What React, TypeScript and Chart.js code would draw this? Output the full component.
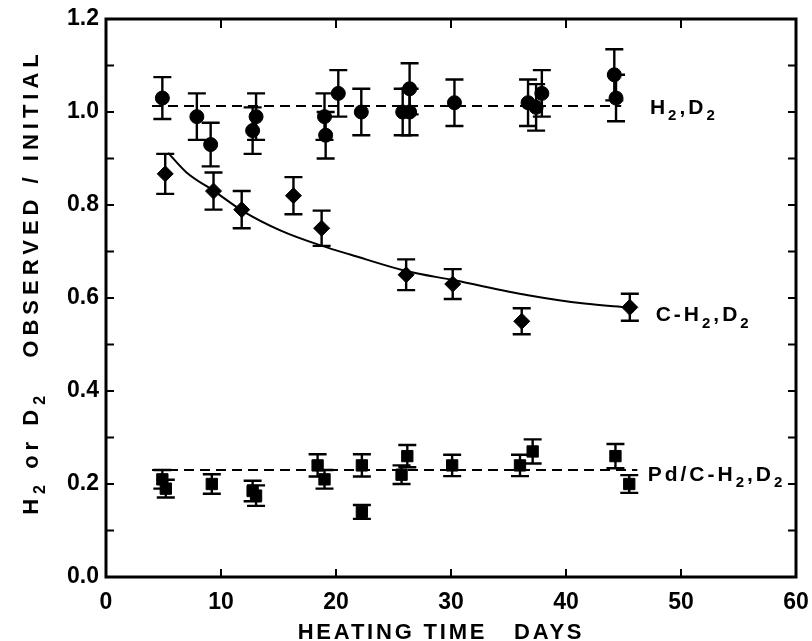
import React, { useEffect, useRef } from 'react';
import { Chart, registerables } from 'chart.js';

Chart.register(...registerables);

// H2,D2 (circles)
const h2X = [4.9, 7.9, 9.1, 12.75, 13.05, 19.0, 19.1, 20.2, 22.2, 25.8, 26.4, 26.4, 30.3, 36.7, 37.4, 37.9, 44.2, 44.35];
const h2Y = [1.03, 0.99, 0.93, 0.96, 0.99, 0.99, 0.95, 1.04, 1.0, 1.0, 1.0, 1.05, 1.02, 1.02, 1.01, 1.04, 1.08, 1.03];
const h2Err = [0.045, 0.05, 0.047, 0.05, 0.05, 0.05, 0.05, 0.05, 0.05, 0.05, 0.05, 0.055, 0.05, 0.05, 0.05, 0.05, 0.055, 0.05];

// C-H2,D2 (diamonds)
const cX = [5.15, 9.35, 11.8, 16.3, 18.75, 26.1, 30.15, 36.15, 45.55];
const cY = [0.867, 0.83, 0.79, 0.82, 0.75, 0.65, 0.63, 0.55, 0.58];
const cErr = [0.043, 0.04, 0.04, 0.04, 0.038, 0.033, 0.032, 0.028, 0.029];

// Pd/C-H2,D2 (squares)
const pdX = [4.9, 5.2, 9.2, 12.75, 13.05, 18.4, 19.0, 22.25, 22.25, 25.7, 26.2, 30.1, 36.0, 37.1, 44.3, 45.5];
const pdY = [0.21, 0.19, 0.2, 0.185, 0.175, 0.24, 0.21, 0.24, 0.14, 0.22, 0.26, 0.24, 0.24, 0.27, 0.26, 0.2];
const pdErr = [0.02, 0.019, 0.021, 0.022, 0.022, 0.024, 0.02, 0.024, 0.015, 0.02, 0.024, 0.023, 0.023, 0.026, 0.026, 0.019];

// fitted curve through C-H2,D2
const fitX = [5.4, 7.0, 9.4, 11.9, 15.2, 18.8, 21.3, 26.1, 30.3, 36.7, 41.6, 45.4];
const fitY = [0.912, 0.87, 0.83, 0.787, 0.745, 0.712, 0.693, 0.658, 0.638, 0.606, 0.588, 0.58];

// mean (dashed) lines
const h2MeanX = [4.0, 44.8];
const h2MeanY = [1.013, 1.013];
const pdMeanX = [4.0, 46.2];
const pdMeanY = [0.23, 0.23];

const xTickValues = [0, 10, 20, 30, 40, 50, 60];
const yTickLabels = ['0.0', '0.2', '0.4', '0.6', '0.8', '1.0', '1.2'];

const toPts = (xs: number[], ys: number[]) => xs.map((x, i) => ({ x, y: ys[i] }));

type Seg = { t: string; sub?: boolean };

function richWidth(ctx: CanvasRenderingContext2D, segs: Seg[], size: number, family: string) {
  let w = 0;
  for (const s of segs) {
    ctx.font = `bold ${s.sub ? Math.round(size * 0.72) : size}px ${family}`;
    w += ctx.measureText(s.t).width;
  }
  return w;
}

function drawRich(ctx: CanvasRenderingContext2D, segs: Seg[], x: number, y: number, size: number, family: string) {
  let cx = x;
  ctx.textBaseline = 'alphabetic';
  ctx.textAlign = 'left';
  for (const s of segs) {
    const fs = s.sub ? Math.round(size * 0.72) : size;
    ctx.font = `bold ${fs}px ${family}`;
    ctx.fillText(s.t, cx, y + (s.sub ? size * 0.3 : 0));
    cx += ctx.measureText(s.t).width;
  }
}

const FONT = '"Liberation Sans", Arial, sans-serif';
const NARROW = '"Liberation Sans Narrow", "Liberation Sans", Arial, sans-serif';

const decorPlugin = {
  id: 'decor',
  beforeDatasetsDraw(chart: any) {
    const ctx: CanvasRenderingContext2D = chart.ctx;
    const xs = chart.scales.x;
    const ys = chart.scales.y;
    ctx.save();
    ctx.strokeStyle = '#000';
    chart.data.datasets.forEach((ds: any) => {
      if (!ds.errors) return;
      ds.data.forEach((p: any, i: number) => {
        const e = ds.errors[i];
        const px = xs.getPixelForValue(p.x);
        const top = ys.getPixelForValue(p.y + e);
        const bot = ys.getPixelForValue(p.y - e);
        ctx.beginPath();
        ctx.moveTo(px, top);
        ctx.lineTo(px, bot);
        ctx.moveTo(px - 9, top);
        ctx.lineTo(px + 9, top);
        ctx.moveTo(px - 9, bot);
        ctx.lineTo(px + 9, bot);
        ctx.lineWidth = 2.4;
        ctx.stroke();
      });
    });
    ctx.restore();
  },
  afterDraw(chart: any) {
    const ctx: CanvasRenderingContext2D = chart.ctx;
    const a = chart.chartArea;
    const xs = chart.scales.x;
    const ys = chart.scales.y;
    ctx.save();
    ctx.strokeStyle = '#000';
    ctx.fillStyle = '#000';
    // frame
    ctx.lineWidth = 3;
    ctx.strokeRect(a.left, a.top, a.right - a.left, a.bottom - a.top);
    // inner ticks
    ctx.lineWidth = 2;
    ctx.beginPath();
    for (let v = 10; v < 60; v += 10) {
      const px = xs.getPixelForValue(v);
      ctx.moveTo(px, a.bottom);
      ctx.lineTo(px, a.bottom - 8);
      ctx.moveTo(px, a.top);
      ctx.lineTo(px, a.top + 9);
    }
    for (let k = 1; k < 12; k++) {
      const py = ys.getPixelForValue(k / 10);
      ctx.moveTo(a.left, py);
      ctx.lineTo(a.left + 8, py);
      ctx.moveTo(a.right, py);
      ctx.lineTo(a.right - 8, py);
    }
    ctx.stroke();

    // series labels
    const size = 21;
    (ctx as any).letterSpacing = '3px';
    const lab = (segs: Seg[], xv: number, yv: number) => {
      drawRich(ctx, segs, xs.getPixelForValue(xv), ys.getPixelForValue(yv) + 8, size, FONT);
    };
    lab([{ t: 'H' }, { t: '2', sub: true }, { t: ',D' }, { t: '2', sub: true }], 47.3, 1.013);
    lab([{ t: 'C-H' }, { t: '2', sub: true }, { t: ',D' }, { t: '2', sub: true }], 47.8, 0.567);
    lab([{ t: 'Pd/C-H' }, { t: '2', sub: true }, { t: ',D' }, { t: '2', sub: true }], 47.1, 0.224);

    // x title
    (ctx as any).letterSpacing = '2.8px';
    ctx.font = `bold 22px ${FONT}`;
    ctx.textAlign = 'center';
    ctx.textBaseline = 'alphabetic';
    ctx.fillText('HEATING TIME   DAYS', 441, 639);

    // y title (rotated)
    const ySegs: Seg[] = [
      { t: 'H' }, { t: '2', sub: true }, { t: ' or D' }, { t: '2', sub: true }, { t: '   OBSERVED / INITIAL' },
    ];
    (ctx as any).letterSpacing = '5px';
    const w = richWidth(ctx, ySegs, 22, FONT);
    ctx.translate(38, 282);
    ctx.rotate(-Math.PI / 2);
    drawRich(ctx, ySegs, -w / 2, 0, 22, FONT);
    ctx.restore();
  },
};

export default function App() {
  const ref = useRef<HTMLCanvasElement | null>(null);
  useEffect(() => {
    document.body.style.margin = '0';
    const canvas = ref.current;
    if (!canvas) return;
    const chart = new Chart(canvas, {
      type: 'scatter',
      data: {
        datasets: [
          {
            label: 'H2,D2',
            data: toPts(h2X, h2Y),
            errors: h2Err,
            pointStyle: 'circle',
            pointRadius: 7,
            backgroundColor: '#000',
            borderColor: '#000',
            showLine: false,
          } as any,
          {
            label: 'C-H2,D2',
            data: toPts(cX, cY),
            errors: cErr,
            pointStyle: 'rectRot',
            pointRadius: 8,
            backgroundColor: '#000',
            borderColor: '#000',
            showLine: false,
          } as any,
          {
            label: 'Pd/C-H2,D2',
            data: toPts(pdX, pdY),
            errors: pdErr,
            pointStyle: 'rect',
            pointRadius: 8,
            backgroundColor: '#000',
            borderColor: '#000',
            showLine: false,
          } as any,
          {
            label: 'fit',
            data: toPts(fitX, fitY),
            showLine: true,
            pointRadius: 0,
            borderColor: '#000',
            borderWidth: 2,
            cubicInterpolationMode: 'monotone',
          } as any,
          {
            label: 'h2 mean',
            data: toPts(h2MeanX, h2MeanY),
            showLine: true,
            pointRadius: 0,
            borderColor: '#000',
            borderWidth: 2,
            borderDash: [10, 6],
          } as any,
          {
            label: 'pd mean',
            data: toPts(pdMeanX, pdMeanY),
            showLine: true,
            pointRadius: 0,
            borderColor: '#000',
            borderWidth: 2,
            borderDash: [10, 6],
          } as any,
        ],
      },
      options: {
        responsive: false,
        animation: false,
        layout: { padding: { top: 19, right: 16, left: 0, bottom: 0 } },
        plugins: { legend: { display: false }, tooltip: { enabled: false } },
        scales: {
          x: {
            type: 'linear',
            min: 0,
            max: 60,
            afterBuildTicks: (s: any) => {
              s.ticks = xTickValues.map((v) => ({ value: v }));
            },
            ticks: {
              color: '#000',
              font: { family: NARROW, size: 23, weight: 'bold' },
              padding: 12,
              maxRotation: 0,
              autoSkip: false,
            },
            grid: { display: false, drawTicks: false },
            border: { display: false },
            afterFit: (s: any) => {
              s.height = 64;
              s.paddingLeft = 0;
              s.paddingRight = 0;
            },
          },
          y: {
            type: 'linear',
            min: 0,
            max: 1.2,
            afterBuildTicks: (s: any) => {
              s.ticks = yTickLabels.map((t) => ({ value: parseFloat(t) }));
            },
            ticks: {
              color: '#000',
              font: { family: NARROW, size: 23, weight: 'bold' },
              padding: 7,
              autoSkip: false,
              callback: (v: any) => {
                const lbl = yTickLabels.find((t) => Math.abs(parseFloat(t) - v) < 1e-6);
                return lbl ?? '';
              },
            },
            grid: { display: false, drawTicks: false },
            border: { display: false },
            afterFit: (s: any) => {
              s.width = 106;
              s.paddingTop = 0;
              s.paddingBottom = 0;
            },
          },
        },
      } as any,
      plugins: [decorPlugin],
    });
    return () => chart.destroy();
  }, []);
  return <canvas ref={ref} width={812} height={641} style={{ display: 'block', width: 812, height: 641 }} />;
}
